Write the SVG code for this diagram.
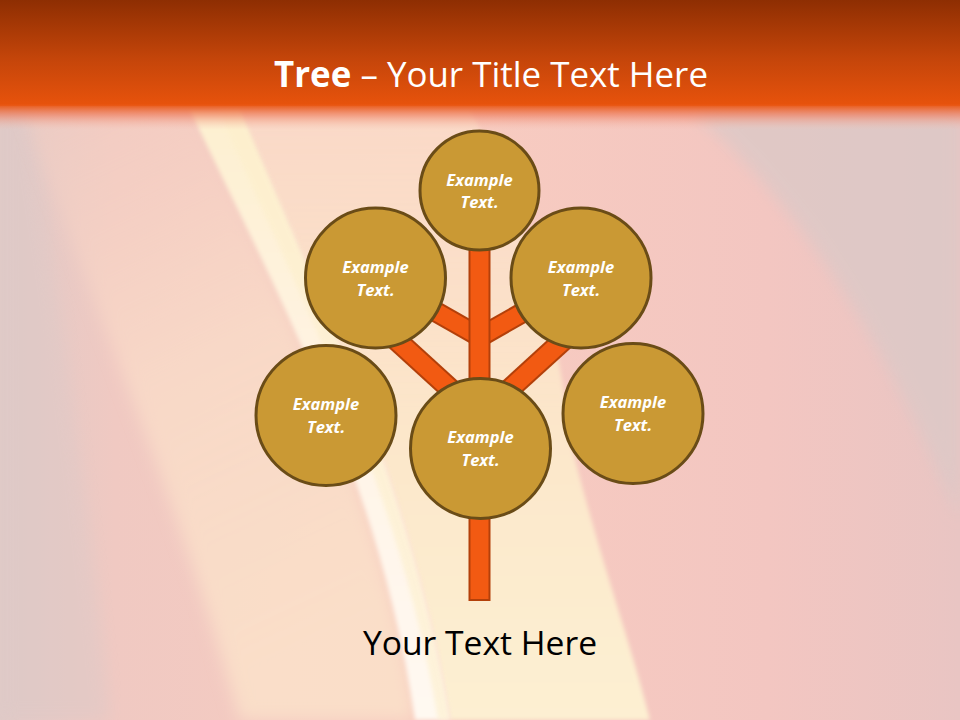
<svg xmlns="http://www.w3.org/2000/svg" width="960" height="720" viewBox="0 0 960 720">
<defs>
<linearGradient id="base" x1="0" y1="0" x2="1" y2="0">
<stop offset="0" stop-color="#E0CAC7"/>
<stop offset="0.12" stop-color="#F0C9C2"/>
<stop offset="0.45" stop-color="#F8CCC0"/>
<stop offset="0.8" stop-color="#F3C6C1"/>
<stop offset="1" stop-color="#E9C5C3"/>
</linearGradient>
<linearGradient id="hdr" x1="0" y1="0" x2="0" y2="1">
<stop offset="0" stop-color="#8E2E02"/>
<stop offset="0.55" stop-color="#C4450A"/>
<stop offset="1" stop-color="#E8530C"/>
</linearGradient>
<linearGradient id="fade" x1="0" y1="0" x2="0" y2="1">
<stop offset="0" stop-color="#E8530C" stop-opacity="1"/>
<stop offset="0.45" stop-color="#EE7A5A" stop-opacity="0.6"/>
<stop offset="1" stop-color="#F4B8A8" stop-opacity="0"/>
</linearGradient>
<linearGradient id="peach" x1="0" y1="0" x2="0.3" y2="1">
<stop offset="0" stop-color="#F8CFC2" stop-opacity="0.3"/>
<stop offset="0.5" stop-color="#FADDC9" stop-opacity="0.75"/>
<stop offset="1" stop-color="#FBE2CA" stop-opacity="0.85"/>
</linearGradient>
<linearGradient id="cream" x1="0" y1="0" x2="0" y2="1">
<stop offset="0" stop-color="#FBDCC9" stop-opacity="0.8"/>
<stop offset="0.5" stop-color="#FCE6CA"/>
<stop offset="1" stop-color="#FDF0D2"/>
</linearGradient>
<linearGradient id="band" x1="0" y1="0" x2="0" y2="1">
<stop offset="0" stop-color="#FDF0D0"/>
<stop offset="0.5" stop-color="#FFF4E6"/>
<stop offset="1" stop-color="#FFF9F2"/>
</linearGradient>
<filter id="soft" x="-10%" y="-10%" width="120%" height="120%"><feGaussianBlur stdDeviation="8"/></filter>
<filter id="soft2" x="-10%" y="-10%" width="120%" height="120%"><feGaussianBlur stdDeviation="2"/></filter>
<style>
.node circle{fill:#CA9934;stroke:#6A4C17;stroke-width:3}
.node text{font-family:"Open Sans","DejaVu Sans",sans-serif;font-weight:700;font-style:italic;font-size:16.5px;fill:#FFFFFF;text-anchor:middle}
.br{stroke:#B3400A;stroke-linecap:butt}
.bri{stroke:#F25A12;stroke-linecap:butt}
</style>
</defs>
<g id="background">
<rect width="960" height="720" fill="url(#base)"/>
<path d="M0,110 L28,110 C60,300 90,520 110,720 L0,720 Z" fill="#DCC9C8" opacity="0.45" filter="url(#soft)"/>
<path d="M24,110 L195,110 C280,300 380,480 415,720 L240,720 C180,500 90,300 24,110 Z" fill="url(#peach)" filter="url(#soft)"/>
<path d="M690,110 L960,110 L960,520 C900,380 820,220 690,110 Z" fill="#DCC9C7" opacity="0.8" filter="url(#soft)"/>
<path d="M240,110 L470,110 C520,200 560,330 570,440 C600,560 630,640 650,720 L450,720 C410,480 320,300 240,110 Z" fill="url(#cream)" filter="url(#soft2)"/>
<path d="M190,110 L240,110 C320,300 410,480 450,720 L415,720 C380,480 280,300 190,110 Z" fill="url(#band)" filter="url(#soft2)"/>
<path d="M218,110 L240,110 C320,300 410,480 450,720 L438,720 C398,480 300,300 218,110 Z" fill="#FDEFCB" opacity="0.6" filter="url(#soft2)"/>
</g>
<g id="header">
<rect x="0" y="0" width="960" height="106" fill="url(#hdr)"/>
<rect x="0" y="104" width="960" height="26" fill="url(#fade)"/>
<text x="491" y="87" text-anchor="middle" font-family="'Open Sans','DejaVu Sans',sans-serif" font-size="35" fill="#FFFFFF" textLength="434" lengthAdjust="spacingAndGlyphs"><tspan font-weight="700">Tree</tspan> – Your Title Text Here</text>
</g>
<g id="connectors">
<line class="br" x1="380" y1="325" x2="482" y2="418" stroke-width="22"/>
<line class="bri" x1="380" y1="325" x2="482" y2="418" stroke-width="18"/>
<line class="br" x1="580" y1="325" x2="478" y2="418" stroke-width="22"/>
<line class="bri" x1="580" y1="325" x2="478" y2="418" stroke-width="18"/>
<line class="br" x1="380" y1="280" x2="482" y2="338" stroke-width="21"/>
<line class="bri" x1="380" y1="280" x2="482" y2="338" stroke-width="17"/>
<line class="br" x1="580" y1="280" x2="478" y2="338" stroke-width="21"/>
<line class="bri" x1="580" y1="280" x2="478" y2="338" stroke-width="17"/>
<rect x="469.5" y="240" width="20" height="360" fill="#F25A12" stroke="#B3400A" stroke-width="2"/>
</g>
<g id="node-top" class="node"><circle cx="479.5" cy="190.5" r="59.5"/><text x="479.5" y="185.5">Example</text><text x="479.5" y="208">Text.</text></g>
<g id="node-upper-left" class="node"><circle cx="375.5" cy="278" r="70"/><text x="375.5" y="273">Example</text><text x="375.5" y="296">Text.</text></g>
<g id="node-upper-right" class="node"><circle cx="581" cy="278" r="70"/><text x="581" y="273">Example</text><text x="581" y="296">Text.</text></g>
<g id="node-left" class="node"><circle cx="326" cy="415.5" r="70"/><text x="326" y="410">Example</text><text x="326" y="433">Text.</text></g>
<g id="node-right" class="node"><circle cx="633" cy="413.5" r="70"/><text x="633" y="408">Example</text><text x="633" y="431">Text.</text></g>
<g id="node-bottom" class="node"><circle cx="480.5" cy="448.5" r="70"/><text x="480.5" y="443">Example</text><text x="480.5" y="466">Text.</text></g>
<text id="footer" x="480" y="655" text-anchor="middle" font-family="'Open Sans','DejaVu Sans',sans-serif" font-size="33" fill="#000000" textLength="234" lengthAdjust="spacingAndGlyphs">Your Text Here</text>
</svg>
